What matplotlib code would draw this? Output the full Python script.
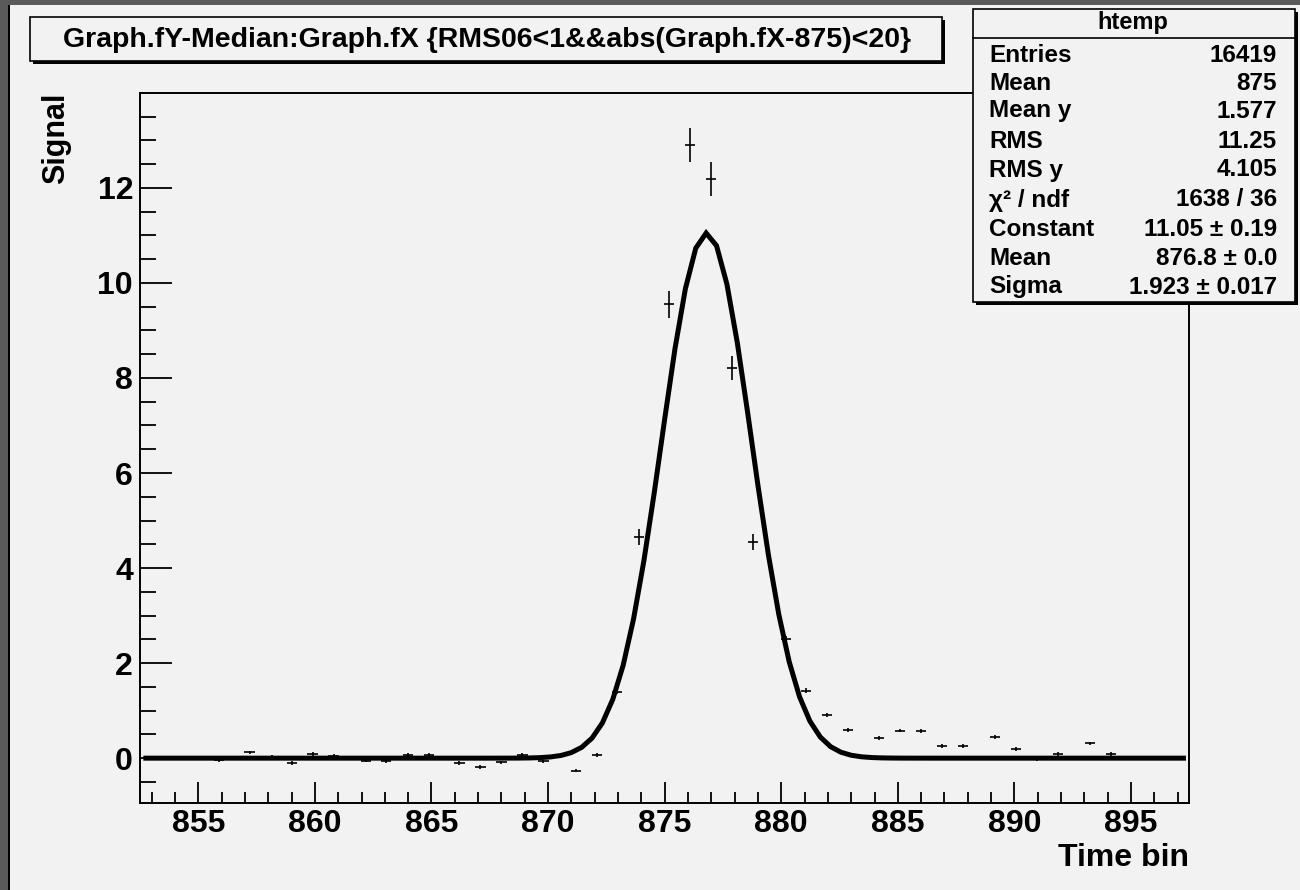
import numpy as np
import matplotlib
matplotlib.use('Agg')
import matplotlib.pyplot as plt
from matplotlib.patches import Rectangle

plt.rcParams['font.family'] = ['Liberation Sans', 'DejaVu Sans']
plt.rcParams['font.weight'] = 'bold'

# profile points
time_bin = [855.9, 857.2, 858.15, 859.03, 859.9, 860.8, 862.2, 863.05, 863.98, 864.9,
            866.2, 867.1, 868.0, 868.9, 869.8, 871.2, 872.1, 872.95, 873.9, 875.2,
            876.1, 877.0, 877.9, 878.8, 880.2, 881.05, 881.97, 882.87, 884.2, 885.1,
            886.0, 886.9, 887.8, 889.16, 890.06, 890.96, 891.88, 893.23, 894.13]
signal = [-0.04, 0.12, 0.03, -0.11, 0.09, 0.04, -0.05, -0.07, 0.06, 0.06,
          -0.11, -0.19, -0.09, 0.07, -0.07, -0.26, 0.07, 1.39, 4.66, 9.55,
          12.91, 12.19, 8.21, 4.55, 2.51, 1.42, 0.90, 0.60, 0.43, 0.58,
          0.57, 0.25, 0.25, 0.44, 0.20, -0.02, 0.08, 0.31, 0.08]
signal_err = [0.04, 0.04, 0.04, 0.04, 0.04, 0.04, 0.04, 0.04, 0.04, 0.04,
              0.04, 0.04, 0.04, 0.04, 0.04, 0.04, 0.04, 0.05, 0.17, 0.28,
              0.36, 0.36, 0.25, 0.17, 0.06, 0.05, 0.04, 0.04, 0.04, 0.04,
              0.04, 0.04, 0.04, 0.04, 0.04, 0.04, 0.04, 0.04, 0.04]
bin_half_width = 0.22

# gaussian fit result (from stats box)
fit_constant = 11.05
fit_mean = 876.8
fit_sigma = 1.923
fit_range = (852.75, 897.25)

x_ticks = [855, 860, 865, 870, 875, 880, 885, 890, 895]
y_ticks = [0, 2, 4, 6, 8, 10, 12]

title = 'Graph.fY-Median:Graph.fX {RMS06<1&&abs(Graph.fX-875)<20}'
stat_labels = ['Entries', 'Mean', 'Mean y', 'RMS', 'RMS y', 'χ² / ndf',
               'Constant', 'Mean', 'Sigma']
stat_values = ['16419', '875', '1.577', '11.25', '4.105', '1638 / 36',
               '11.05 ± 0.19', '876.8 ± 0.0', '1.923 ± 0.017']

bg = '#f2f2f2'
W, H = 1300, 890
fig = plt.figure(figsize=(13, 8.9), dpi=100, facecolor=bg)
ax = fig.add_axes([140 / W, 1 - 803.3 / H, (1189.3 - 140) / W, (803.3 - 93.3) / H])
ax.set_facecolor(bg)

ax.errorbar(time_bin, signal, xerr=bin_half_width, yerr=signal_err, fmt='none',
            ecolor='black', elinewidth=1.2, zorder=2)

xf = np.linspace(fit_range[0], fit_range[1], 101)
yf = fit_constant * np.exp(-0.5 * ((xf - fit_mean) / fit_sigma) ** 2)
ax.plot(xf, yf, color='black', lw=3.6, solid_joinstyle='miter', zorder=3)

ax.set_xlim(852.5, 897.5)
ax.set_ylim(-0.95, 13.99)
ax.set_xticks(x_ticks)
ax.set_xticks(np.arange(853, 898, 1), minor=True)
ax.set_yticks(y_ticks)
ax.set_yticks(np.arange(-0.5, 14, 0.5), minor=True)
ax.tick_params(axis='x', which='major', direction='in', length=15.3, width=1.3,
               labelsize=23, pad=4)
ax.tick_params(axis='x', which='minor', direction='in', length=7.6, width=1.3)
ax.tick_params(axis='y', which='major', direction='in', length=22.7, width=1.3,
               labelsize=23, pad=5)
ax.tick_params(axis='y', which='minor', direction='in', length=11.3, width=1.3)
for lbl in ax.get_xticklabels() + ax.get_yticklabels():
    lbl.set_fontweight('bold')
for s in ax.spines.values():
    s.set_linewidth(1.4)

fig.text(56 / W, 1 - 93 / H, 'Signal', rotation=90, ha='center', va='top',
         fontsize=22, fontweight='bold')
fig.text(1189 / W, 1 - 858 / H, 'Time bin', ha='right', va='center',
         fontsize=23, fontweight='bold')

# overlay in pixel coordinates for boxes and canvas border
ov = fig.add_axes([0, 0, 1, 1], zorder=10)
ov.set_xlim(0, W)
ov.set_ylim(H, 0)
ov.axis('off')
ov.patch.set_alpha(0)

ov.add_patch(Rectangle((0, 0), 8, H, color='#5a5a5a', lw=0))
ov.add_patch(Rectangle((8, 5), 2, H, color='black', lw=0))
ov.add_patch(Rectangle((0, 0), W, 5, color='#5a5a5a', lw=0))

# title box
ov.add_patch(Rectangle((33, 20), 912, 44, color='black', lw=0))
ov.add_patch(Rectangle((30, 17), 912, 44, fc=bg, ec='black', lw=1.2))
ov.text(487, 40, title, ha='center', va='center', fontsize=20.5, fontweight='bold')

# stats box
ov.add_patch(Rectangle((976, 12), 322, 293, color='black', lw=0))
ov.add_patch(Rectangle((973, 9), 322, 293, fc=bg, ec='black', lw=1.2))
ov.plot([973, 1295], [38, 38], color='black', lw=1.2)
ov.text(1133, 22, 'htemp', ha='center', va='center', fontsize=17, fontweight='bold')
row_y = [55, 83.5, 111, 141.5, 170, 200, 230, 258.5, 287]
for yy, lab, val in zip(row_y, stat_labels, stat_values):
    ov.text(989, yy, lab, ha='left', va='center', fontsize=17.5, fontweight='bold')
    ov.text(1277, yy, val, ha='right', va='center', fontsize=17.5, fontweight='bold')

fig.savefig('out.png', dpi=100, facecolor=bg)
